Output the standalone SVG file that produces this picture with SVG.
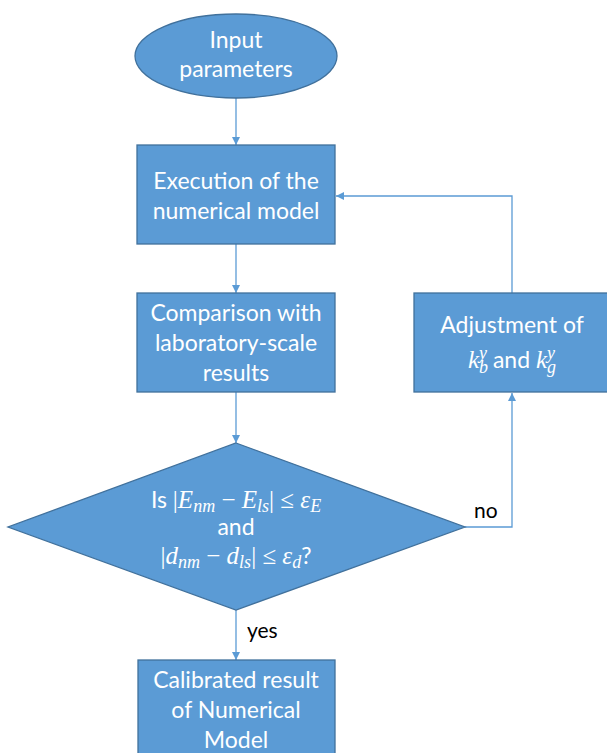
<svg xmlns="http://www.w3.org/2000/svg" width="607" height="753" viewBox="0 0 607 753">
<style>
.shape{fill:#5B9BD5;stroke:#41719C;stroke-width:1.3}
.lbl{font-family:Lato,"Open Sans","Liberation Sans",sans-serif;font-size:23px;fill:#fff;text-anchor:middle}
.m{font-family:"Liberation Serif","DejaVu Serif",serif;font-style:italic;font-size:25px}
.mn{font-family:"Liberation Serif","DejaVu Serif",serif;font-size:25px}
.m.sub{font-size:18px}
.edge{fill:none;stroke:#5B9BD5;stroke-width:1.3}
.elbl{font-family:Lato,"Open Sans","Liberation Sans",sans-serif;font-size:21px;fill:#000}
</style>
<defs>
<marker id="ah" viewBox="0 0 10 10" refX="10" refY="5" markerWidth="8" markerHeight="8" markerUnits="userSpaceOnUse" orient="auto">
<path d="M0,0 L10,5 L0,10 z" fill="#5B9BD5"/>
</marker>
</defs>
<rect width="607" height="753" fill="#fff"/>
<g id="connectors">
<line class="edge" x1="236" y1="98" x2="236" y2="145" marker-end="url(#ah)"/>
<line class="edge" x1="236" y1="244" x2="236" y2="293" marker-end="url(#ah)"/>
<line class="edge" x1="236" y1="392" x2="236" y2="443" marker-end="url(#ah)"/>
<line class="edge" x1="236" y1="610" x2="236" y2="660" marker-end="url(#ah)"/>
<polyline class="edge" points="465,527 512,527 512,393" marker-end="url(#ah)"/>
<polyline class="edge" points="512,293 512,196 336,196" marker-end="url(#ah)"/>
<text class="elbl" x="474" y="518">no</text>
<text class="elbl" x="247" y="638">yes</text>
</g>
<g id="input">
<ellipse class="shape" cx="236" cy="56" rx="101" ry="42"/>
<text class="lbl" x="236" y="48">Input</text>
<text class="lbl" x="236" y="77">parameters</text>
</g>
<g id="execution">
<rect class="shape" x="137" y="145" width="198" height="99"/>
<text class="lbl" x="236" y="189">Execution of the</text>
<text class="lbl" x="236" y="219">numerical model</text>
</g>
<g id="comparison">
<rect class="shape" x="137" y="293" width="198" height="99"/>
<text class="lbl" x="236" y="321">Comparison with</text>
<text class="lbl" x="236" y="351">laboratory-scale</text>
<text class="lbl" x="236" y="381">results</text>
</g>
<g id="adjustment">
<rect class="shape" x="414" y="293" width="198" height="99"/>
<text class="lbl" x="512" y="333">Adjustment of</text>
<text class="lbl" x="512" y="368"><tspan class="m">k</tspan><tspan class="m sub" dy="5">b</tspan><tspan class="m sub" dx="-9" dy="-14">y</tspan><tspan dy="9"> and </tspan><tspan class="m">k</tspan><tspan class="m sub" dy="5">g</tspan><tspan class="m sub" dx="-9" dy="-14">y</tspan></text>
</g>
<g id="decision">
<polygon class="shape" points="236,443 465,527 236,610 8,527"/>
<text class="lbl" x="236" y="508">Is <tspan class="mn">|</tspan><tspan class="m">E</tspan><tspan class="m sub" dy="4">nm</tspan><tspan class="mn" dy="-4"> − </tspan><tspan class="m">E</tspan><tspan class="m sub" dy="4">ls</tspan><tspan class="mn" dy="-4">| ≤ </tspan><tspan class="m">ε</tspan><tspan class="m sub" dy="4">E</tspan></text>
<text class="lbl" x="236" y="535">and</text>
<text class="lbl" x="236" y="564"><tspan class="mn">|</tspan><tspan class="m">d</tspan><tspan class="m sub" dy="4">nm</tspan><tspan class="mn" dy="-4"> − </tspan><tspan class="m">d</tspan><tspan class="m sub" dy="4">ls</tspan><tspan class="mn" dy="-4">| ≤ </tspan><tspan class="m">ε</tspan><tspan class="m sub" dy="4">d</tspan><tspan dy="-4">?</tspan></text>
</g>
<g id="calibrated">
<rect class="shape" x="138" y="660" width="197" height="110"/>
<text class="lbl" x="236" y="688">Calibrated result</text>
<text class="lbl" x="236" y="718">of Numerical</text>
<text class="lbl" x="236" y="748">Model</text>
</g>
</svg>
